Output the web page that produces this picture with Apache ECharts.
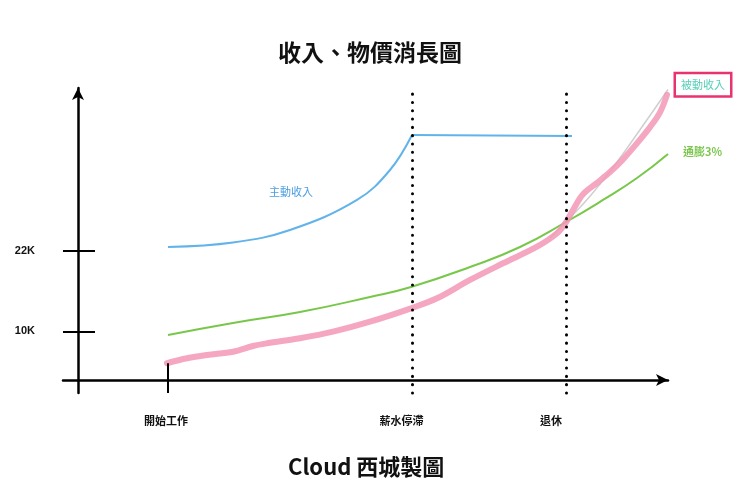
<!DOCTYPE html>
<html>
<head>
<meta charset="utf-8">
<script src="https://cdn.jsdelivr.net/npm/echarts@6/dist/echarts.min.js"></script>
<style>
  html, body { margin: 0; padding: 0; background: #ffffff; }
  #chart { width: 740px; height: 500px; }
</style>
</head>
<body>
<div id="chart"></div>
<script>
// ---- data (x: years from the y-axis, y: income in K) ----
const activeRiseX = [9, 15.5, 21.2, 27.9, 31.2, 33.4];
const activeRiseY = [22.55, 23.22, 25.08, 29.55, 34.01, 39.22];
const activeFlatX = [33.4, 49.4];
const activeFlatY = [39.22, 39.07];

const inflationX = [9, 15.5, 22.2, 29.2, 33.3, 39.2, 44.2, 48.8, 52.5, 55.9, 59];
const inflationY = [9.45, 11.24, 12.87, 15.11, 16.6, 19.57, 22.55, 26.27, 29.55, 32.82, 36.4];

const passiveX = [8.9, 10.9, 12.9, 15.5, 17.5, 18.9, 22.2, 25.5, 29.2, 33.3, 35.9, 39.2, 42.5, 45.9, 47.9, 48.8, 49.5, 50.5, 51.9, 53.2, 54.5, 55.9, 57.2, 58.2, 58.9];
const passiveY = [5.24, 5.98, 6.47, 6.96, 7.81, 8.21, 8.96, 9.94, 11.43, 13.42, 14.91, 17.64, 20.12, 22.59, 24.59, 26.23, 28.06, 30.4, 32.1, 33.7, 35.6, 38.0, 40.4, 42.6, 45.2];

const guideX = [47.2, 48.8, 51.2, 53.7, 56.2, 59];
const guideY = [23.9, 26.3, 30.1, 34.8, 40.0, 46.0];

const yTickValues = [10, 22];
const yTickLabels = ['10K', '22K'];

const xLabelValues = [8.8, 32.35, 47.3];
const xLabels = ['開始工作', '薪水停滯', '退休'];

const startWorkX = 9;
const eventLineX = [33.4, 48.8];   // 薪水停滯, 退休

const activeName = '主動收入';
const inflationName = '通膨3%';
const passiveName = '被動收入';
const activeLabelAt = [21.3, 30.7];

const zip = (xs, ys) => xs.map((x, i) => [x, ys[i]]);

const CJK = '"Noto Sans CJK TC", "Noto Sans CJK SC", sans-serif';
const LAT = '"Liberation Sans", Arial, sans-serif';

const chart = echarts.init(document.getElementById('chart'), null, { renderer: 'canvas' });

const yMin = 0.81, yMax = 46.22;

chart.setOption({
  animation: false,
  backgroundColor: '#ffffff',
  title: [
    {
      text: '收入、物價消長圖',
      left: 'center',
      top: 36,
      textStyle: { fontFamily: CJK, fontSize: 23, fontWeight: 'bold', color: '#111' }
    },
    {
      text: 'Cloud 西城製圖',
      left: 283,
      top: 451,
      textStyle: { fontFamily: CJK, fontSize: 22, fontWeight: 'bold', color: '#111' }
    }
  ],
  grid: { left: 63, right: 72, top: 88, bottom: 107, containLabel: false },
  xAxis: {
    type: 'value',
    min: -1.5,
    max: 59,
    offset: -13,
    splitLine: { show: false },
    axisLine: {
      show: true, onZero: false,
      symbol: ['none', 'arrow'], symbolSize: [9, 12],
      lineStyle: { color: '#000', width: 2.5 }
    },
    axisTick: { show: false },
    axisLabel: {
      show: true,
      customValues: xLabelValues,
      formatter: function (v) {
        let best = 0;
        for (let i = 1; i < xLabelValues.length; i++) {
          if (Math.abs(xLabelValues[i] - v) < Math.abs(xLabelValues[best] - v)) best = i;
        }
        return xLabels[best];
      },
      margin: 35,
      fontFamily: CJK, fontSize: 11, fontWeight: 'bold', color: '#111'
    }
  },
  yAxis: [
    {
      type: 'value',
      min: yMin, max: yMax,
      position: 'left',
      offset: -15,
      splitLine: { show: false },
      axisLine: {
        show: true, onZero: false,
        symbol: ['none', 'arrow'], symbolSize: [9, 12],
        lineStyle: { color: '#000', width: 2.5 }
      },
      axisTick: {
        show: true, customValues: yTickValues, length: 15,
        lineStyle: { color: '#000', width: 2 }
      },
      axisLabel: {
        show: true, customValues: yTickValues,
        formatter: function (v) { return yTickLabels[yTickValues.indexOf(v)] || ''; },
        margin: 43,
        fontFamily: LAT, fontSize: 11, fontWeight: 'bold', color: '#111'
      }
    },
    {
      type: 'value',
      min: yMin, max: yMax,
      position: 'left',
      offset: -15,
      splitLine: { show: false },
      axisLine: { show: false, onZero: false },
      axisTick: {
        show: true, inside: true, customValues: yTickValues, length: 17,
        lineStyle: { color: '#000', width: 2 }
      },
      axisLabel: { show: false }
    }
  ],
  series: [
    {
      name: 'guide',
      type: 'line',
      data: zip(guideX, guideY),
      smooth: true,
      clip: false,
      symbol: 'none',
      silent: true,
      lineStyle: { color: '#cfcfcf', width: 1.5 },
      z: 1
    },
    {
      name: activeName,
      type: 'line',
      data: zip(activeRiseX, activeRiseY),
      smooth: 0.4,
      clip: false,
      symbol: 'none',
      lineStyle: { color: '#62b3ea', width: 2 },
      markPoint: {
        symbol: 'circle', symbolSize: 0,
        label: {
          show: true, position: 'inside',
          formatter: activeName,
          fontFamily: CJK, fontSize: 11, color: '#4a9fe3'
        },
        data: [{ coord: activeLabelAt }]
      },
      z: 3
    },
    {
      name: activeName,
      type: 'line',
      data: zip(activeFlatX, activeFlatY),
      clip: false,
      symbol: 'none',
      lineStyle: { color: '#62b3ea', width: 2 },
      z: 3
    },
    {
      name: inflationName,
      type: 'line',
      data: zip(inflationX, inflationY),
      smooth: true,
      clip: false,
      symbol: 'none',
      lineStyle: { color: '#78c74a', width: 2 },
      endLabel: {
        show: true,
        formatter: '{a}',
        distance: 15,
        offset: [0, -2],
        fontFamily: CJK, fontSize: 11, fontWeight: 'bold', color: '#7cc650'
      },
      markLine: {
        silent: true,
        symbol: ['none', 'none'],
        label: { show: false },
        data: eventLineX.map(function (x) {
          return {
            xAxis: x,
            lineStyle: { color: '#000', width: 3, type: [0.1, 8.2], cap: 'round' }
          };
        }).concat([[
          { coord: [startWorkX, passiveY[0]], lineStyle: { color: '#000', width: 2, type: 'solid' } },
          { coord: [startWorkX, yMin] }
        ]])
      },
      z: 2
    },
    {
      name: passiveName,
      type: 'line',
      data: zip(passiveX, passiveY),
      smooth: 0.35,
      clip: false,
      symbol: 'none',
      lineStyle: { color: '#f397b5', width: 6, opacity: 0.85, cap: 'round', join: 'round' },
      endLabel: {
        show: true,
        formatter: '{a}',
        distance: 9,
        offset: [0, -10],
        padding: [5, 5, 5, 5],
        borderColor: '#e8336f',
        borderWidth: 2.5,
        backgroundColor: '#ffffff',
        fontFamily: CJK, fontSize: 11, color: '#55cfb8'
      },
      z: 4
    }
  ]
});
</script>
</body>
</html>
